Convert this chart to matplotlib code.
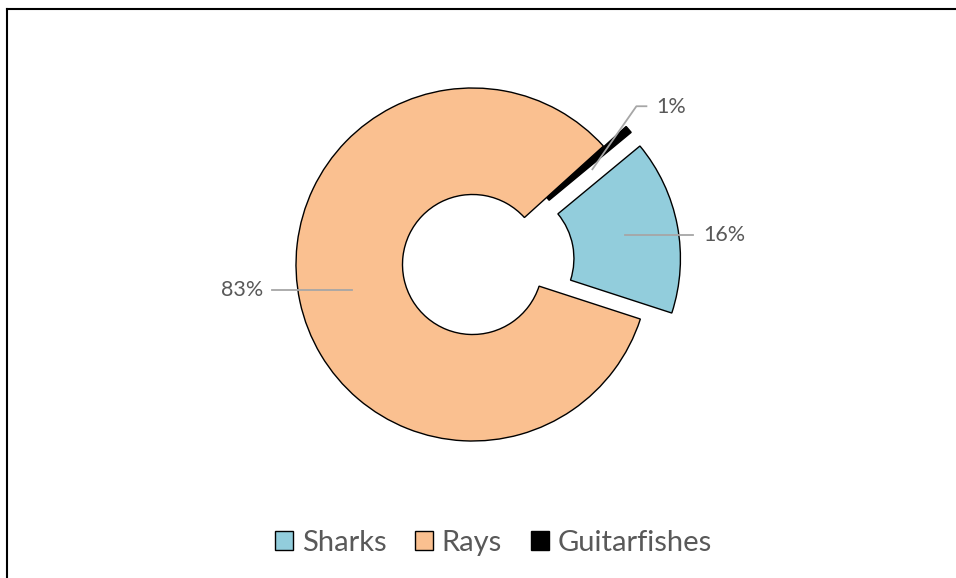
import math
import matplotlib
matplotlib.use("Agg")
import matplotlib.pyplot as plt

# data
categories = ["Sharks", "Rays", "Guitarfishes"]
shares = [16.0, 83.3, 0.7]
pct_labels = ["16%", "83%", "1%"]
colors = ["#92CDDC", "#FAC090", "#000000"]

plt.rcParams["font.family"] = ["Lato", "DejaVu Sans"]
text_color = "#595959"
line_color = "#A6A6A6"

W, H = 956, 578
fig = plt.figure(figsize=(W / 100, H / 100), dpi=100)
ax = fig.add_axes([0, 0, 1, 1])

# work in pixel-like data units, y pointing up
radius = 176.5
wedges, _ = ax.pie(
    shares,
    colors=colors,
    startangle=39.6,
    counterclock=False,
    explode=[32, 0, 30],
    radius=radius,
    center=(472.5, H - 264.5),
    wedgeprops=dict(width=106.5, edgecolor="black", linewidth=1.0),
)
ax.set_xlim(0, W)
ax.set_ylim(0, H)
ax.set_aspect("equal")
ax.axis("off")


def mid_point(w):
    ang = math.radians((w.theta1 + w.theta2) / 2)
    rm = w.r - w.width / 2
    return w.center[0] + rm * math.cos(ang), w.center[1] + rm * math.sin(ang)


# data labels with leader lines
lbl_kw = dict(fontsize=15.5, color=text_color, va="center")

# Sharks
x0, y0 = mid_point(wedges[0])
ax.plot([x0, x0 + 68], [y0, y0], color=line_color, lw=1.3)
ax.text(x0 + 78, y0, pct_labels[0], ha="left", **lbl_kw)

# Rays
x0, y0 = mid_point(wedges[1])
ax.plot([x0, x0 - 80], [y0, y0], color=line_color, lw=1.3)
ax.text(x0 - 89, y0, pct_labels[1], ha="right", **lbl_kw)

# Guitarfishes (bent leader)
x0, y0 = mid_point(wedges[2])
ax.plot([x0 + 4, x0 + 48, x0 + 58], [y0 - 5, y0 + 58, y0 + 58], color=line_color, lw=1.3)
ax.text(x0 + 68, y0 + 57, pct_labels[2], ha="left", **lbl_kw)

# chart border (top and left edges visible)
ax.plot([7, W], [H - 9, H - 9], color="black", lw=1.5, clip_on=False)
ax.plot([7, 7], [H - 9, 0], color="black", lw=1.5, clip_on=False)

leg = fig.legend(
    wedges,
    categories,
    loc="center",
    bbox_to_anchor=(493.5 / W, 1 - 543 / H),
    ncol=3,
    frameon=False,
    fontsize=21,
    handlelength=0.6,
    handleheight=0.6,
    handletextpad=0.3,
    columnspacing=1.0,
    labelcolor=text_color,
)

fig.savefig("out.png", dpi=100)
